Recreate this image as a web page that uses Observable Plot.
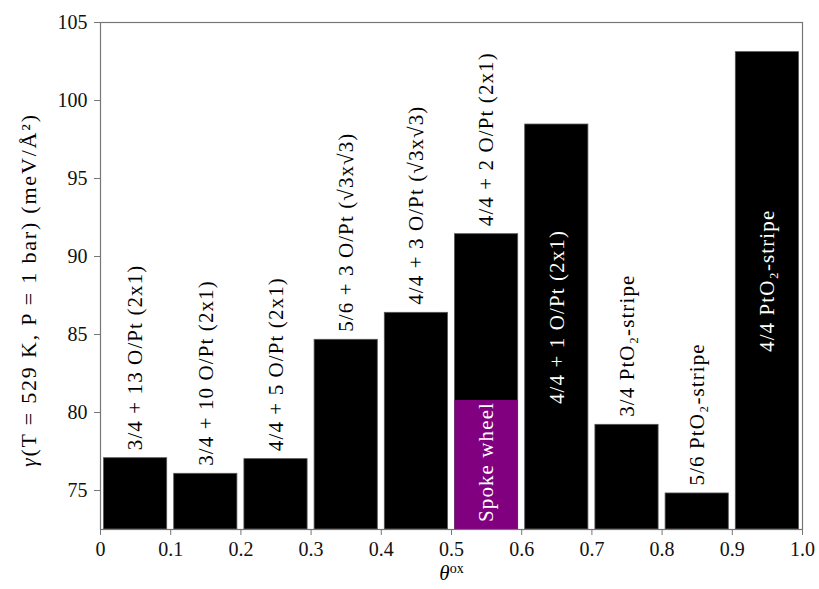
<!DOCTYPE html>
<html>
<head>
<meta charset="utf-8">
<script src="https://cdn.jsdelivr.net/npm/d3@7"></script>
<script src="https://cdn.jsdelivr.net/npm/@observablehq/plot@0.6"></script>
<style>
  body { margin: 0; background: #fff; }
  #chart svg { display: block; }
  #chart svg, #chart svg text { font-family: "Liberation Serif", serif !important; }
  #chart g[aria-label$="tick"] { stroke: #777; }
  #chart text.bar-label { letter-spacing: 1.1px; font-size: 21px; }
  #chart text.y-title { font-size: 22px; }
</style>
</head>
<body>
<div id="chart"></div>
<script>
// Surface free energy of O/Pt phases at T = 529 K, P = 1 bar
const coverage = [0.0, 0.1, 0.2, 0.3, 0.4, 0.5, 0.6, 0.7, 0.8, 0.9];
const gamma = [77.07, 76.07, 77.01, 84.66, 86.39, 91.43, 98.46, 79.21, 74.81, 103.1];
const phases = [
  "3/4 + 13 O/Pt (2x1)",
  "3/4 + 10 O/Pt (2x1)",
  "4/4 + 5 O/Pt (2x1)",
  "5/6 + 3 O/Pt (√3x√3)",
  "4/4 + 3 O/Pt (√3x√3)",
  "4/4 + 2 O/Pt (2x1)",
  "4/4 + 1 O/Pt (2x1)",
  "3/4 PtO₂-stripe",
  "5/6 PtO₂-stripe",
  "4/4 PtO₂-stripe"
];

// Spoke-wheel structure, overlaid on the 0.5 bin
const spokeCoverage = [0.5];
const spokeGamma = [80.77];
const spokeLabel = ["Spoke wheel"];

// Axis ticks
const xTicks = [0, 0.1, 0.2, 0.3, 0.4, 0.5, 0.6, 0.7, 0.8, 0.9, 1.0];
const xTickLabels = ["0", "0.1", "0.2", "0.3", "0.4", "0.5", "0.6", "0.7", "0.8", "0.9", "1.0"];
const yTicks = [75, 80, 85, 90, 95, 100, 105];

const yTitle = "γ(T = 529 K, P = 1 bar) (meV/Å²)";
const xTitle = "θox";

const yMin = 72.5, yMax = 105;
const binWidth = 0.1, pad = 0.005;

const bars = coverage.map((x, i) => ({x, value: gamma[i], label: phases[i]}));
const spoke = spokeCoverage.map((x, i) => ({x, value: spokeGamma[i], label: spokeLabel[i]}));

// Tall bars carry their label inside; the rest above the bar top
const isInside = d => d.value > 95;
const outside = bars.filter(d => !isInside(d));
const inside = bars.filter(isInside);
const barLabels = new Set([...phases, ...spokeLabel]);

const chart = Plot.plot({
  width: 819,
  height: 589,
  marginLeft: 100,
  marginRight: 17,
  marginTop: 22,
  marginBottom: 60,
  style: {fontSize: "20px", color: "#111", background: "#fff"},
  x: {
    domain: [0, 1],
    ticks: xTicks,
    tickFormat: d => xTickLabels[xTicks.findIndex(t => Math.abs(t - d) < 1e-9)],
    tickSize: 6,
    tickPadding: 6,
    label: null
  },
  y: {
    domain: [yMin, yMax],
    ticks: yTicks,
    tickSize: 6,
    tickPadding: 7,
    label: null
  },
  marks: [
    Plot.rect(bars, {
      x1: d => d.x + pad, x2: d => d.x + binWidth - pad,
      y1: yMin, y2: "value",
      fill: "black", stroke: "#555", strokeWidth: 0.8
    }),
    Plot.rect(spoke, {
      x1: d => d.x + pad, x2: d => d.x + binWidth - pad,
      y1: yMin, y2: "value",
      fill: "#800080"
    }),
    Plot.frame({stroke: "#777", strokeWidth: 1.2}),
    Plot.text(outside, {
      x: d => d.x + binWidth / 2, y: "value", text: "label",
      rotate: -90, textAnchor: "start", dy: -8, fill: "black"
    }),
    Plot.text(inside, {
      x: d => d.x + binWidth / 2, y: d => (d.value + yMin) / 2, text: "label",
      rotate: -90, textAnchor: "middle", dy: -10, fill: "white"
    }),
    Plot.text(spoke, {
      x: d => d.x + binWidth / 2, y: d => (d.value + yMin) / 2, text: "label",
      rotate: -90, textAnchor: "middle", dy: -3, fill: "white"
    }),
    Plot.text([yTitle], {
      frameAnchor: "left", textAnchor: "middle", text: d => d,
      rotate: -90, dx: -72, dy: 15, fill: "black"
    }),
    Plot.text([xTitle], {
      frameAnchor: "bottom", textAnchor: "middle", text: d => d, dy: 50, fill: "black"
    })
  ]
});

// Italic symbols and the superscript on the axis titles; spacing on bar labels
d3.select(chart).selectAll("text").each(function () {
  const t = d3.select(this);
  const s = t.text();
  if (barLabels.has(s)) {
    t.classed("bar-label", true);
  } else if (s === xTitle) {
    t.text("");
    t.append("tspan").attr("font-style", "italic").attr("font-size", "21px").text("θ");
    t.append("tspan").attr("dy", "-0.45em").attr("font-size", "14px").text("ox");
  } else if (s === yTitle) {
    t.classed("y-title", true);
    t.text("");
    t.append("tspan").attr("font-style", "italic").text("γ");
    t.append("tspan").text(s.slice(1));
  }
});

document.getElementById("chart").appendChild(chart);

// Spread the y-axis title over the height it spans beside the plot frame
const yTitleNode = chart.querySelector("text.y-title");
if (yTitleNode) {
  yTitleNode.setAttribute("textLength", 352);
  yTitleNode.setAttribute("lengthAdjust", "spacing");
}
</script>
</body>
</html>
